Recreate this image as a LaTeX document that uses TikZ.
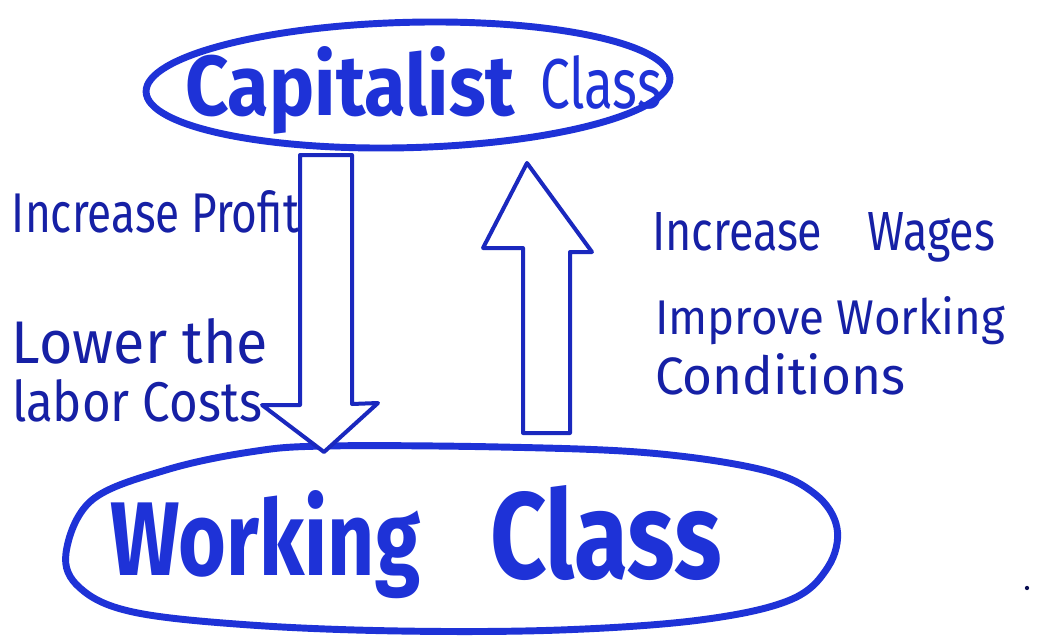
\documentclass[tikz,border=0pt]{standalone}
\usepackage{fontspec}
\setmainfont{Fira Sans}
\usetikzlibrary{shapes.geometric}
\definecolor{penblue}{RGB}{30,50,215}
\definecolor{inkblue}{RGB}{22,32,165}
\definecolor{arrowblue}{RGB}{26,40,190}
% text scaled to a given width and height, both in px (1px = 0.75pt)
\newcommand{\hand}[3]{\resizebox{\dimexpr #1pt*3/4\relax}{\dimexpr #2pt*3/4\relax}{#3}}
\begin{document}
\begin{tikzpicture}[x=0.75pt,y=-0.75pt,
  word/.style={anchor=base west, inner sep=0pt, outer sep=0pt},
  thin/.style={word, text=inkblue},
  heavy/.style={word, text=penblue, font=\bfseries},
  classring/.style={draw=penblue, line width=5.2pt},
  blockarrow/.style={draw=arrowblue, line width=3pt, line join=round, fill=white}]
\fill[white] (0,0) rectangle (1040,636);
\useasboundingbox (0,0) rectangle (1040,636);

% upper class
\node[classring, ellipse, minimum width=393pt, minimum height=94pt, rotate=1.5] (cap) at (408,85) {};
\node[heavy] (capword) at (185,115) {\hand{330}{69}{Capitalist}};
\node[heavy, font=\mdseries] (capclass) at (540,108) {\hand{122}{53}{Class}};

% lower class
\draw[classring] plot[smooth cycle, tension=0.6] coordinates {
  (66,553) (92,500) (166,470) (250,452) (325,446) (500,447) (650,453) (763,470)
  (815,494) (837,528) (828,567) (790,600) (700,620) (560,630) (400,631)
  (250,625) (133,612) (80,588)};
\node[heavy] (workword) at (110,575) {\hand{310}{85}{Working}};
\node[heavy] (workclass) at (490,578) {\hand{232}{93}{Class}};

% downward arrow: capitalist to working class
\draw[blockarrow] (300,155) -- (352,155) -- (352,404) -- (378,403) -- (324,452)
  -- (262,405) -- (300,405) -- cycle;
% upward arrow: working to capitalist class
\draw[blockarrow] (523,433) -- (570,433) -- (570,252) -- (592,252) -- (527,163)
  -- (483,248) -- (523,248) -- cycle;

% aims of the capitalist class
\node[thin] (profit) at (12,232) {\hand{287}{42}{Increase Profit}};
\node[thin] (lower) at (12,363) {\hand{256}{45}{Lower the}};
\node[thin] (labor) at (12,421) {\hand{250}{42}{labor Costs}};

% demands of the working class
\node[thin] (wages) at (652,250) {\hand{343}{38}{Increase\quad Wages}};
\node[thin] (improve) at (655,334) {\hand{350}{38}{Improve Working}};
\node[thin] (cond) at (655,394) {\hand{250}{41}{Conditions}};

\fill[inkblue!50!black] (1027,588) circle (1.6pt);
\end{tikzpicture}
\end{document}
